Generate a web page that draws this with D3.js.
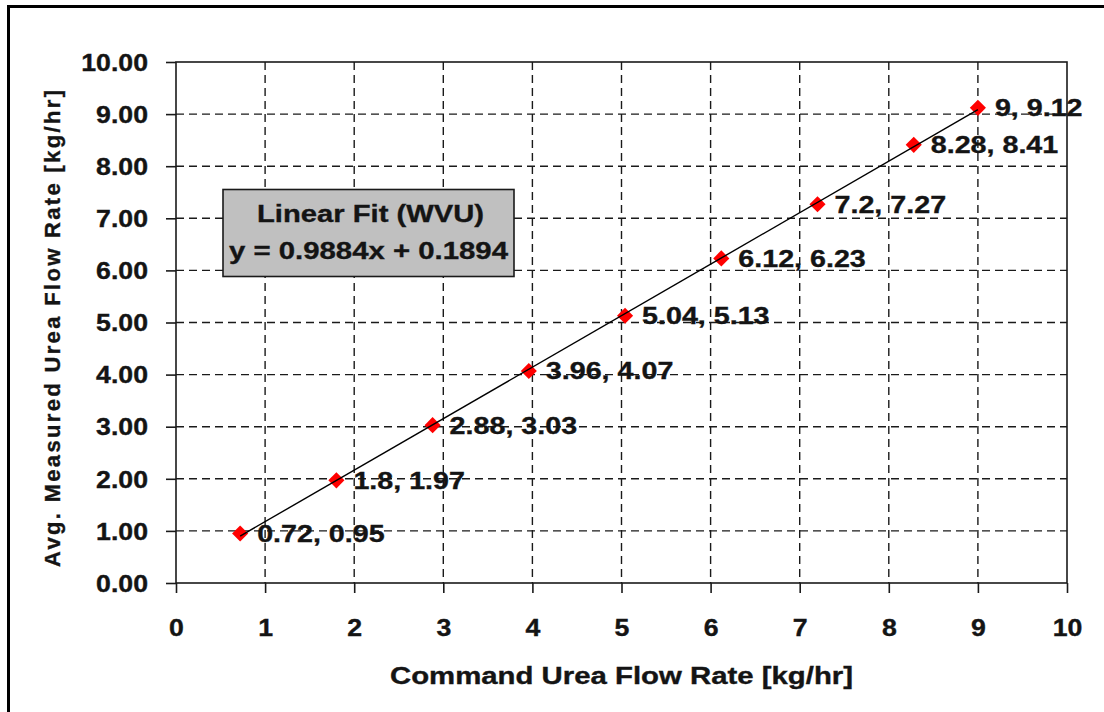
<!DOCTYPE html>
<html>
<head>
<meta charset="utf-8">
<script src="https://cdn.jsdelivr.net/npm/d3@7"></script>
<style>
  body { margin: 0; background: #fff; }
  svg { display: block; }
  text { font-family: "Liberation Sans", Arial, sans-serif; font-weight: bold; fill: #141414;
         stroke: #141414; stroke-width: 0.35px; }
</style>
</head>
<body>
<svg id="chart" width="1104" height="712"></svg>
<script>
// Command vs. measured urea flow (kg/hr)
const commandRate  = [0.72, 1.8, 2.88, 3.96, 5.04, 6.12, 7.2, 8.28, 9];
const measuredRate = [0.95, 1.97, 3.03, 4.07, 5.13, 6.23, 7.27, 8.41, 9.12];
const xTicks = [0, 1, 2, 3, 4, 5, 6, 7, 8, 9, 10];
const yTicks = [0, 1, 2, 3, 4, 5, 6, 7, 8, 9, 10];
const fitSlope = 0.9884;
const fitIntercept = 0.1894;
const fitTitle = "Linear Fit (WVU)";
const fitEquation = "y = 0.9884x + 0.1894";
const xTitle = "Command Urea Flow Rate [kg/hr]";
const yTitle = "Avg. Measured Urea Flow Rate [kg/hr]";

const svg = d3.select("#chart");
const plot = { left: 176, right: 1067, top: 62, bottom: 583 };

const x = d3.scaleLinear().domain([0, 10]).range([plot.left, plot.right]);
const y = d3.scaleLinear().domain([0, 10]).range([plot.bottom, plot.top]);

// outer frame (runs off the right and bottom edges)
svg.append("rect")
  .attr("x", 8.5).attr("y", 6.5)
  .attr("width", 1200).attr("height", 800)
  .attr("fill", "none").attr("stroke", "#000").attr("stroke-width", 3);

// dashed grid
const grid = svg.append("g").attr("stroke", "#1a1a1a").attr("stroke-width", 1.4)
  .attr("stroke-dasharray", "8,5");
grid.selectAll("line.v").data(xTicks.filter(d => d > 0 && d < 10)).join("line")
  .attr("class", "v")
  .attr("x1", d => x(d)).attr("x2", d => x(d))
  .attr("y1", plot.top).attr("y2", plot.bottom);
grid.selectAll("line.h").data(yTicks.filter(d => d > 0 && d < 10)).join("line")
  .attr("class", "h")
  .attr("y1", d => y(d)).attr("y2", d => y(d))
  .attr("x1", plot.left).attr("x2", plot.right);

// plot border
svg.append("rect")
  .attr("x", plot.left).attr("y", plot.top)
  .attr("width", plot.right - plot.left).attr("height", plot.bottom - plot.top)
  .attr("fill", "none").attr("stroke", "#1a1a1a").attr("stroke-width", 1.6);

// axes
const xAxis = svg.append("g").attr("transform", `translate(0,${plot.bottom})`)
  .call(d3.axisBottom(x).tickValues(xTicks).tickSize(10).tickFormat(d3.format("d")));
const yAxis = svg.append("g").attr("transform", `translate(${plot.left},0)`)
  .call(d3.axisLeft(y).tickValues(yTicks).tickSize(10).tickFormat(d3.format(".2f")));

[xAxis, yAxis].forEach(g => {
  g.select(".domain").remove();
  g.selectAll(".tick line").attr("stroke", "#1a1a1a").attr("stroke-width", 1.6);
  g.selectAll("text").attr("font-family", null).attr("fill", "#141414").style("font-size", "23px");
});
xAxis.selectAll("text")
  .attr("y", null).attr("dy", null)
  .attr("transform", "translate(0,52.5) scale(1.16,1)");
yAxis.selectAll("text")
  .attr("x", null).attr("dy", "0.36em")
  .attr("transform", "translate(-28,0) scale(1.16,1)");

// markers
const pts = commandRate.map((c, i) => ({ c, m: measuredRate[i] }));
svg.append("g").selectAll("path").data(pts).join("path")
  .attr("d", d3.symbol().type(d3.symbolSquare).size(130))
  .attr("transform", d => `translate(${x(d.c)},${y(d.m)}) rotate(45)`)
  .attr("fill", "#ff0000");

// trendline
const xr = d3.extent(commandRate);
svg.append("line")
  .attr("x1", x(xr[0])).attr("y1", y(fitSlope * xr[0] + fitIntercept))
  .attr("x2", x(xr[1])).attr("y2", y(fitSlope * xr[1] + fitIntercept))
  .attr("stroke", "#000").attr("stroke-width", 1.4);

// point labels
svg.append("g").selectAll("text").data(pts).join("text")
  .attr("transform", d => `translate(${x(d.c) + 17},${y(d.m)}) scale(1.22,1)`)
  .attr("dy", "0.36em")
  .style("font-size", "23.5px")
  .text(d => `${d.c}, ${d.m}`);

// fit legend box
const box = svg.append("g");
box.append("rect")
  .attr("x", 223).attr("y", 189.5).attr("width", 291).attr("height", 87)
  .attr("fill", "#c0c0c0").attr("stroke", "#1a1a1a").attr("stroke-width", 1.6);
box.append("text")
  .attr("x", 257).attr("y", 221.5)
  .attr("textLength", 227).attr("lengthAdjust", "spacingAndGlyphs")
  .style("font-size", "24px").text(fitTitle);
box.append("text")
  .attr("x", 229).attr("y", 258.5)
  .attr("textLength", 279).attr("lengthAdjust", "spacingAndGlyphs")
  .style("font-size", "24px").text(fitEquation);

// axis titles
svg.append("text")
  .attr("x", 390).attr("y", 684)
  .attr("textLength", 463).attr("lengthAdjust", "spacingAndGlyphs")
  .style("font-size", "23px").text(xTitle);
svg.append("text")
  .attr("transform", "translate(60,567) rotate(-90)")
  .attr("textLength", 477).attr("lengthAdjust", "spacing")
  .style("font-size", "22px").text(yTitle);
</script>
</body>
</html>
